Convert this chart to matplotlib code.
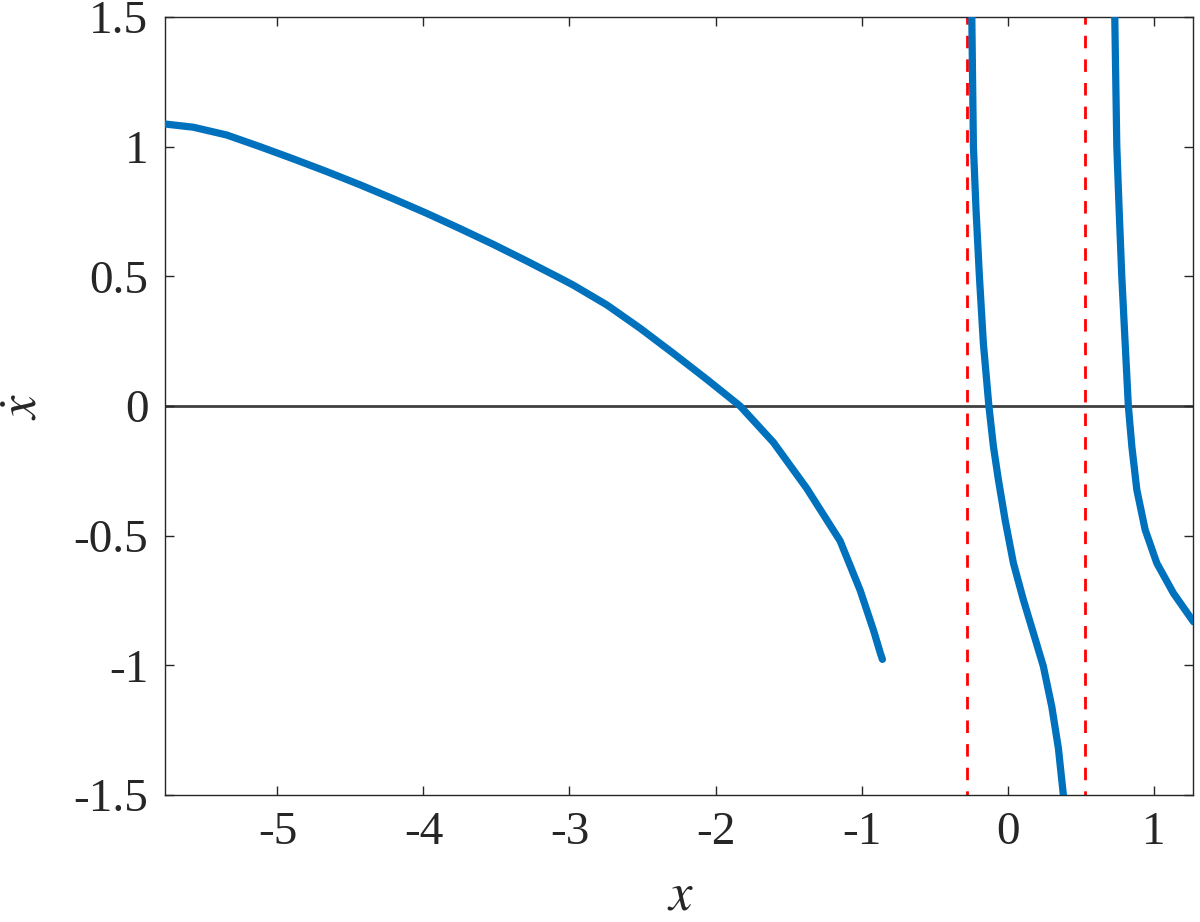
import numpy as np
import matplotlib
matplotlib.use("Agg")
import matplotlib.pyplot as plt

# branch 1 (left)
x_left = [-5.782, -5.577, -5.348, -5.12, -4.892, -4.663, -4.435, -4.207,
          -3.978, -3.75, -3.521, -3.293, -3.065, -2.974, -2.745, -2.517,
          -2.289, -2.06, -1.832, -1.604, -1.375, -1.147, -1.01, -0.918,
          -0.873, -0.857]
y_left = [1.088, 1.075, 1.045, 1.0, 0.953, 0.904, 0.853, 0.799,
          0.743, 0.684, 0.623, 0.559, 0.493, 0.466, 0.390, 0.300,
          0.203, 0.103, 0.0, -0.140, -0.318, -0.520, -0.710, -0.865,
          -0.950, -0.977]

# branch 2 (middle)
x_mid = [-0.245, -0.234, -0.216, -0.193, -0.166, -0.128, -0.097, -0.063,
         -0.017, 0.04, 0.108, 0.177, 0.245, 0.303, 0.348, 0.382]
y_mid = [1.50, 1.00, 0.756, 0.50, 0.243, 0.0, -0.156, -0.284,
         -0.439, -0.606, -0.747, -0.876, -1.004, -1.16, -1.32, -1.50]

# branch 3 (right)
x_right = [0.734, 0.748, 0.764, 0.782, 0.805, 0.827, 0.851, 0.885, 0.942,
           1.022, 1.136, 1.273]
y_right = [1.50, 1.00, 0.756, 0.50, 0.243, 0.0, -0.156, -0.323, -0.477,
           -0.606, -0.722, -0.832]

# asymptotes
x_asym = [-0.279, 0.529]

xlim = (-5.77, 1.27)
ylim = (-1.5, 1.5)
xticks = [-5, -4, -3, -2, -1, 0, 1]
yticks = [-1.5, -1, -0.5, 0, 0.5, 1, 1.5]
ytick_labels = ["-1.5", "-1", "-0.5", "0", "0.5", "1", "1.5"]

plt.rcParams["font.family"] = ["Liberation Serif", "DejaVu Serif"]
plt.rcParams["mathtext.fontset"] = "stix"
plt.rcParams["axes.unicode_minus"] = False

fig = plt.figure(figsize=(12, 9.22), dpi=100)
ax = fig.add_axes([0.1375, 0.1377, 0.8567, 0.8439])

blue = "#0072BD"
ax.axhline(0, color="#404040", lw=2, zorder=1)
for xa in x_asym:
    ax.axvline(xa, color="red", lw=2, linestyle=(3, (4.5, 4)), zorder=2)
for xs, ys in [(x_left, y_left), (x_mid, y_mid), (x_right, y_right)]:
    ax.plot(xs, ys, color=blue, lw=5.2, solid_capstyle="round",
            solid_joinstyle="round", zorder=3)

ax.set_xlim(*xlim)
ax.set_ylim(*ylim)
ax.set_xticks(xticks)
ax.set_yticks(yticks)
ax.set_xticklabels([str(t) for t in xticks])
ax.set_yticklabels(ytick_labels)
ax.tick_params(direction="in", length=6.5, width=1, top=True, right=True,
               labelsize=34, colors="#262626", pad=12)
for s in ax.spines.values():
    s.set_color("#262626")
    s.set_linewidth(1)

ax.set_xlabel(r"$x$", fontsize=38, color="#262626")
ax.set_ylabel(r"$\dot{x}$", fontsize=38, color="#262626")
ax.xaxis.set_label_coords(0.501, -0.100)
ax.yaxis.set_label_coords(-0.114, 0.5)

fig.savefig("out.png", dpi=100)
